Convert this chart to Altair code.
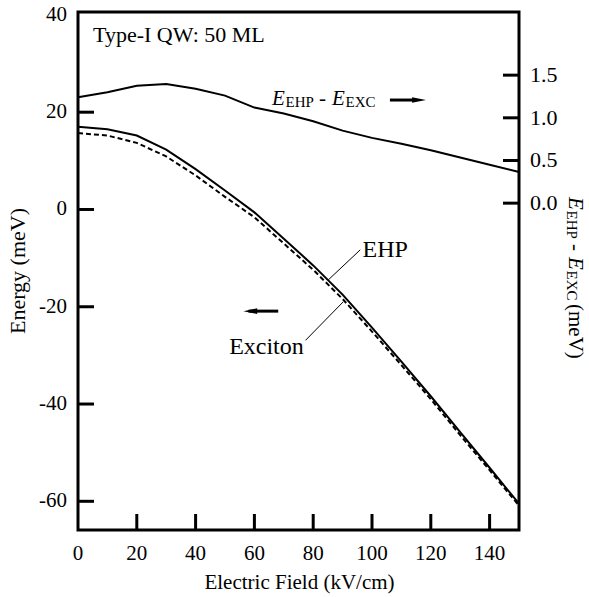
import altair as alt
import pandas as pd

FONT = "Liberation Serif"

# ---- data ----
field_kv = [0, 10, 20, 30, 40, 50, 60, 70, 80, 90, 100, 110, 120, 130, 140, 150]
ehp = [17.0, 16.5, 15.2, 12.3, 8.3, 3.9, -0.6, -6.0, -11.5, -17.5, -24.3, -31.3, -38.4, -45.8, -53.1, -60.5]
exciton = [15.7, 15.2, 13.7, 10.9, 7.0, 2.6, -1.6, -7.0, -12.4, -18.4, -25.1, -32.0, -39.0, -46.4, -53.6, -60.9]
diff = [1.24, 1.30, 1.375, 1.395, 1.34, 1.26, 1.12, 1.05, 0.96, 0.85, 0.765, 0.695, 0.62, 0.535, 0.45, 0.365]

x_ticks = [20, 40, 60, 80, 100, 120, 140]
x_labels = [0, 20, 40, 60, 80, 100, 120, 140]
left_ticks = [-60, -40, -20, 0, 20]
left_labels = [-60, -40, -20, 0, 20, 40]
right_ticks = [0.0, 0.5, 1.0, 1.5]
right_labels = ["0.0", "0.5", "1.0", "1.5"]

W, H = 441, 518
TICK = 16

xs = alt.Scale(domain=[0, 150], nice=False, zero=False)
ls = alt.Scale(domain=[-65.9, 40.6], nice=False, zero=False)
rs = alt.Scale(domain=[-3.83, 2.24], nice=False, zero=False)

main = pd.DataFrame({"x": field_kv, "ehp": ehp, "exc": exciton, "diff": diff})

ehp_line = alt.Chart(main).mark_line(color="black", strokeWidth=2).encode(
    x=alt.X("x:Q", scale=xs, axis=None),
    y=alt.Y("ehp:Q", scale=ls, axis=None),
)
exc_line = alt.Chart(main).mark_line(color="black", strokeWidth=2, strokeDash=[5, 3]).encode(
    x=alt.X("x:Q", scale=xs, axis=None),
    y=alt.Y("exc:Q", scale=ls, axis=None),
)

# inward ticks
bt = alt.Chart(pd.DataFrame({"t": x_ticks})).mark_rule(color="black", strokeWidth=3).encode(
    x=alt.X("t:Q", scale=xs, axis=None), y=alt.value(H), y2=alt.value(H - TICK))
lt = alt.Chart(pd.DataFrame({"t": left_ticks})).mark_rule(color="black", strokeWidth=3).encode(
    y=alt.Y("t:Q", scale=ls, axis=None), x=alt.value(0), x2=alt.value(TICK))

# tick labels
def lab_style(size=21, **kw):
    return dict(font=FONT, fontSize=size, color="black", **kw)

bl = alt.Chart(pd.DataFrame({"t": x_labels, "s": [str(v) for v in x_labels]})).mark_text(
    **lab_style(align="center", baseline="middle")).encode(
    x=alt.X("t:Q", scale=xs, axis=None), y=alt.value(H + 24), text="s:N")
ll = alt.Chart(pd.DataFrame({"t": left_labels, "s": [str(v) for v in left_labels]})).mark_text(
    **lab_style(align="right", baseline="middle")).encode(
    y=alt.Y("t:Q", scale=ls, axis=None), x=alt.value(-11), text="s:N")

titles_df = pd.DataFrame({"k": [0]})
xtitle = alt.Chart(titles_df).mark_text(
    text="Electric Field (kV/cm)", **lab_style(align="center", baseline="middle")).encode(
    x=alt.value(W / 2 + 1), y=alt.value(H + 53))
ytitle = alt.Chart(titles_df).mark_text(
    text="Energy (meV)", angle=270, **lab_style(size=22, align="center", baseline="middle")).encode(
    x=alt.value(-60), y=alt.value(H / 2))

# annotations (left scale coordinates)
def txt(text, x, y, size=20, italic=False, align="left", baseline="alphabetic", dx=0, dy=0):
    return alt.Chart(pd.DataFrame({"ax": [x], "ay": [y]})).mark_text(
        text=text, font=FONT, fontSize=size, fontStyle="italic" if italic else "normal",
        align=align, baseline=baseline, dx=dx, dy=dy, color="black").encode(
        x=alt.X("ax:Q", scale=xs, axis=None), y=alt.Y("ay:Q", scale=ls, axis=None))

def seg(x1, y1, x2, y2, w=1):
    return alt.Chart(pd.DataFrame({"a": [x1], "b": [y1], "c": [x2], "d": [y2]})).mark_rule(
        color="black", strokeWidth=w).encode(
        x=alt.X("a:Q", scale=xs, axis=None), y=alt.Y("b:Q", scale=ls, axis=None),
        x2="c:Q", y2="d:Q")

def head(x, y, direction):
    path = "M-1,0L1,-0.4L1,0.4Z" if direction == "left" else "M1,0L-1,-0.4L-1,0.4Z"
    return alt.Chart(pd.DataFrame({"hx": [x], "hy": [y]})).mark_point(
        shape=path, filled=True, color="black", opacity=1, size=190, strokeWidth=0).encode(
        x=alt.X("hx:Q", scale=xs, axis=None), y=alt.Y("hy:Q", scale=ls, axis=None))

ax0, ay0 = 66.0, 21.5
annot = [
    txt("Type-I QW: 50 ML", 5.1, 35.9, size=22, baseline="middle"),
    txt("EHP", 96.8, -8.3, size=24, baseline="middle"),
    txt("Exciton", 76.8, -28.3, size=24, align="right", baseline="middle"),
    seg(96.0, -8.3, 85.1, -14.5),
    seg(77.4, -26.9, 90.2, -19.0),
    # left arrow
    seg(58.0, -20.9, 68.1, -20.9, w=3),
    head(58.6, -20.9, "left"),
    # E_EHP - E_EXC ->
    txt("E", ax0, ay0, size=21, italic=True),
    txt("EHP", ax0, ay0, size=15, dx=13.5, dy=2),
    txt("-", ax0, ay0, size=21, dx=47),
    txt("E", ax0, ay0, size=21, italic=True, dx=60),
    txt("EXC", ax0, ay0, size=15, dx=73.5, dy=2),
    seg(106.1, 22.5, 114.0, 22.5, w=3),
    head(116.0, 22.5, "right"),
]

left = alt.layer(ehp_line, exc_line, bt, lt, bl, ll, xtitle, ytitle, *annot)

# right-axis series
diff_line = alt.Chart(main).mark_line(color="black", strokeWidth=2).encode(
    x=alt.X("x:Q", scale=xs, axis=None),
    y=alt.Y("diff:Q", scale=rs, axis=None),
)
rt = alt.Chart(pd.DataFrame({"t": right_ticks})).mark_rule(color="black", strokeWidth=3).encode(
    y=alt.Y("t:Q", scale=rs, axis=None), x=alt.value(W), x2=alt.value(W - TICK))
rl = alt.Chart(pd.DataFrame({"t": right_ticks, "s": right_labels})).mark_text(
    **lab_style(size=22, align="left", baseline="middle")).encode(
    y=alt.Y("t:Q", scale=rs, axis=None), x=alt.value(W + 11), text="s:N")

def rtitle(text, off, size=21, italic=False, sub=0):
    # rotated 90 deg: dx runs along the reading direction (down), dy moves toward the left
    return alt.Chart(titles_df).mark_text(
        text=text, font=FONT, fontSize=size, fontStyle="italic" if italic else "normal",
        align="left", baseline="alphabetic", angle=90, dx=off, dy=sub, color="black").encode(
        x=alt.value(W + 50), y=alt.value(185))

rtitles = [
    rtitle("E", 0, italic=True),
    rtitle("EHP", 13.5, size=15, sub=2),
    rtitle("-", 47),
    rtitle("E", 60, italic=True),
    rtitle("EXC", 73.5, size=15, sub=2),
    rtitle("(meV)", 107),
]

right = alt.layer(diff_line, rt, rl, *rtitles)

chart = alt.layer(left, right).resolve_scale(y="independent").properties(
    width=W, height=H,
    autosize=alt.AutoSizeParams(type="none"),
    padding={"left": 78, "top": 12, "right": 589 - 78 - W, "bottom": 597 - 12 - H},
    background="white",
).configure_view(stroke="black", strokeWidth=3)

chart.save("out.html", embed_options={"renderer": "svg", "actions": False})
